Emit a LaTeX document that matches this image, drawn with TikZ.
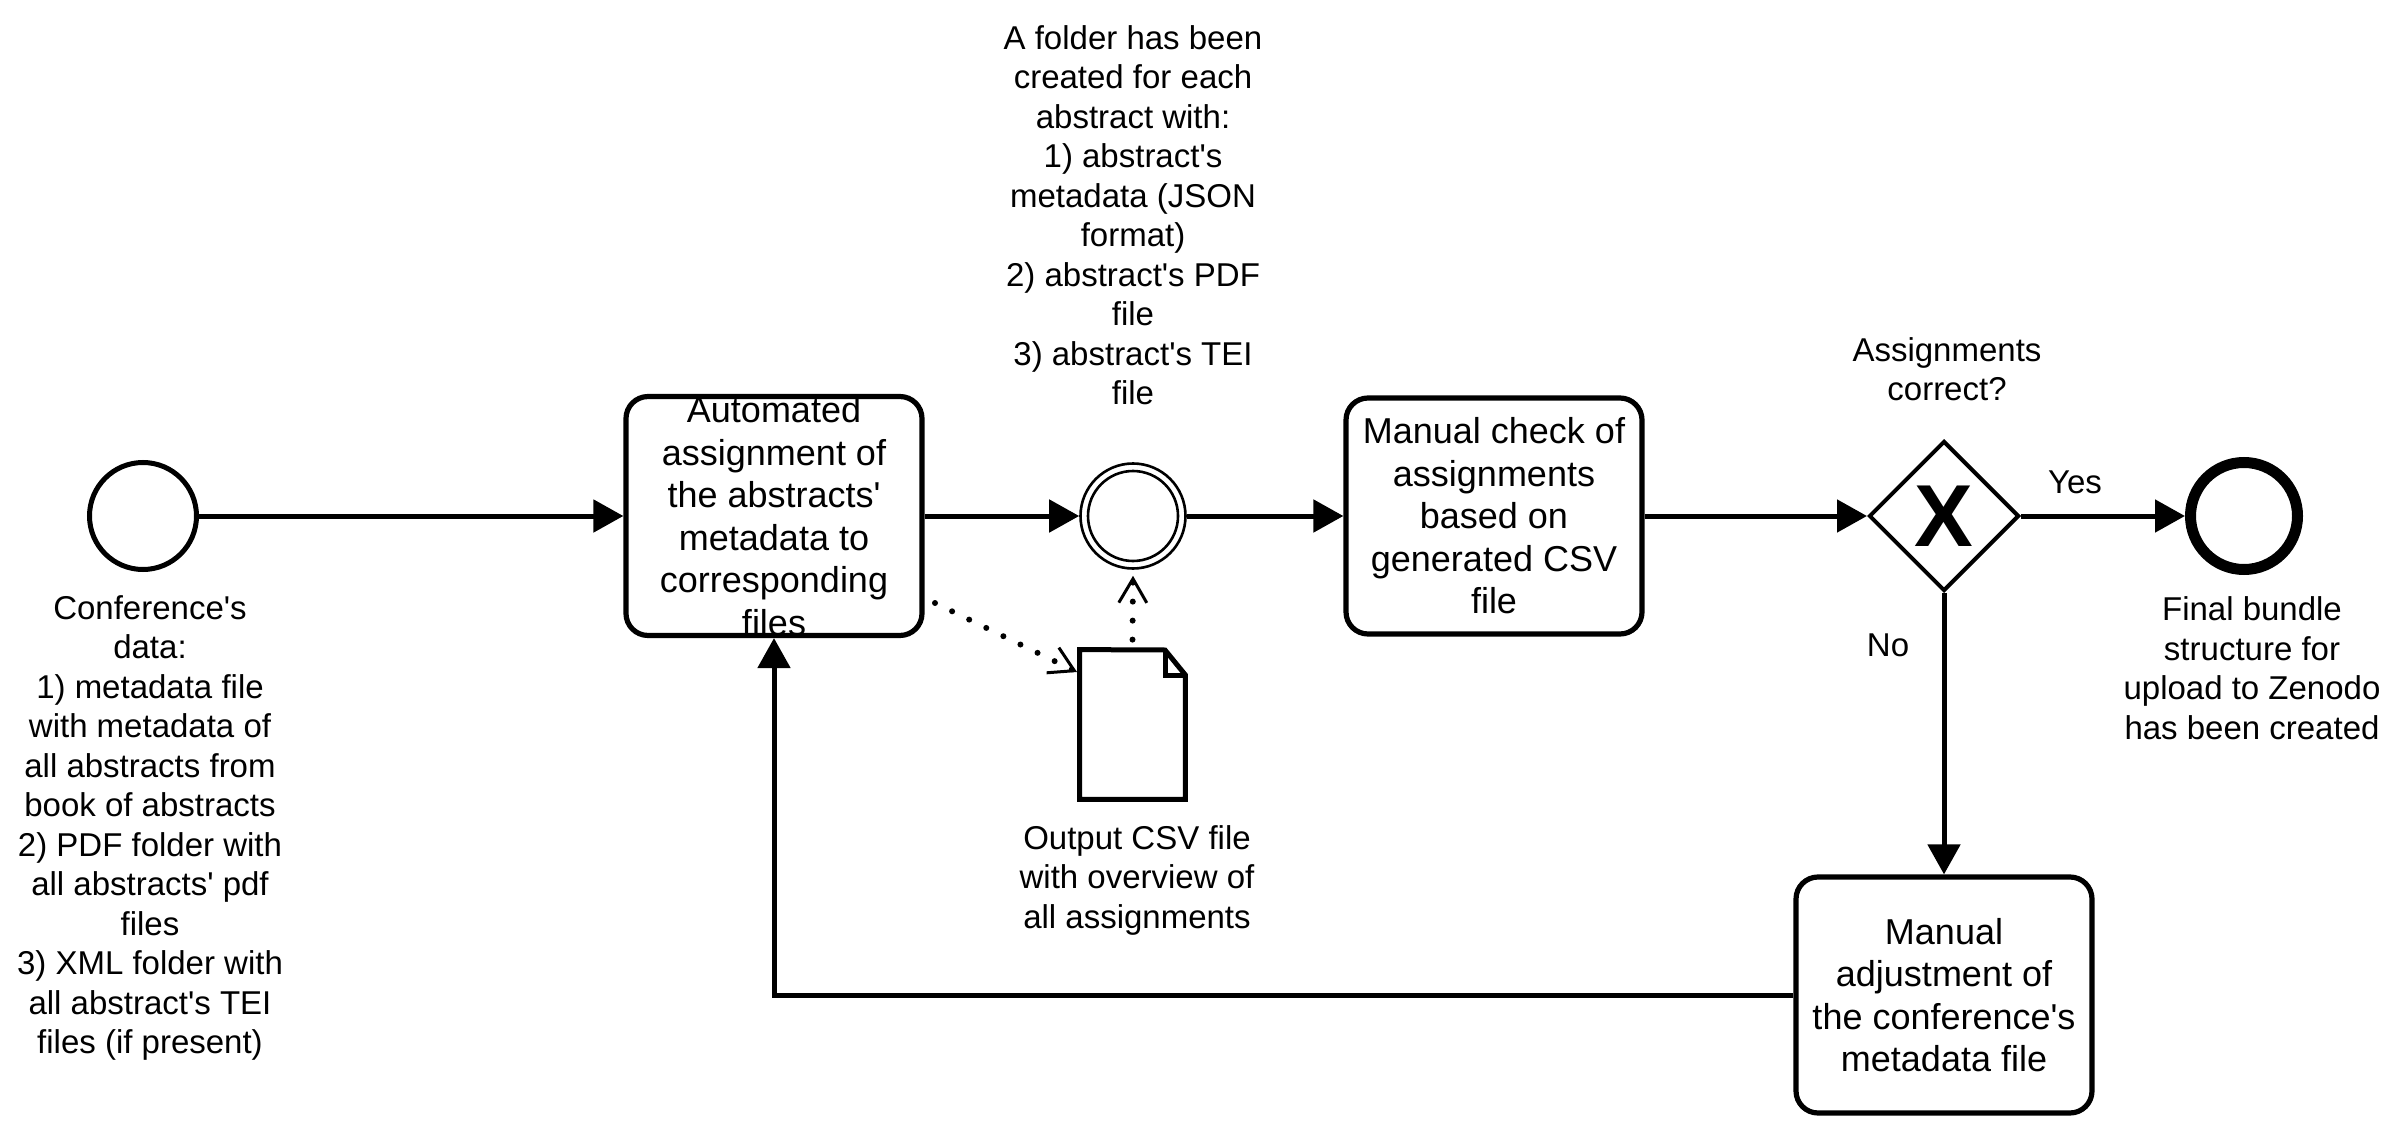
\documentclass[tikz,border=0pt]{standalone}
\usepackage{fontspec}
\setmainfont{Liberation Sans}[Ligatures=TeXOff]
\usetikzlibrary{arrows.meta,shapes.geometric}
\begin{document}
\begin{tikzpicture}[x=0.5pt,y=-0.5pt,
  task/.style={draw,line width=2.6pt,rounded corners=11pt,minimum width=148pt,minimum height=118pt,inner sep=0pt,align=center,font=\fontsize{18}{21.25}\selectfont},
  ann/.style={align=center,inner sep=0pt,font=\fontsize{16.5}{19.75}\selectfont},
  flow/.style={line width=2.5pt,-{Triangle[length=15pt,width=16pt]}},
  assoc/.style={line width=3pt,dash pattern=on 0pt off 9.5pt,line cap=round,-{Straight Barb[length=12pt,width=14pt,line width=1.5pt]}},
]
\useasboundingbox (0,0) rectangle (2400,1134);
% events
\node[draw,circle,line width=2.5pt,minimum size=53.5pt,inner sep=0pt] (se) at (143,516) {};
\node[draw,circle,line width=1.3pt,minimum size=52.5pt,inner sep=0pt] (ie) at (1133,516) {};
\node[draw,circle,line width=1.3pt,minimum size=45pt,inner sep=0pt] (ie2) at (1133,516) {};
\node[draw,circle,line width=5.5pt,minimum size=53.5pt,inner sep=0pt] (ee) at (2244,516) {};
% tasks
\node[task] (t1) at (774,516) {Automated\\assignment of\\the abstracts'\\metadata to\\corresponding\\files};
\node[task] (t2) at (1494,516) {Manual check of\\assignments\\based on\\generated CSV\\file};
\node[task] (adj) at (1944,995) {Manual\\adjustment of\\the conference's\\metadata file};
% gateway
\node[draw,diamond,line width=2pt,minimum width=75pt,minimum height=75pt,inner sep=0pt] (gw) at (1944,516) {};
\node[font=\bfseries\fontsize{44}{44}\selectfont,inner sep=0pt] (gwx) at (1944,516) {X};
% data object
\node[minimum width=52.5pt,minimum height=74.5pt,inner sep=0pt] (doc) at (1132.5,724.5) {};
\draw[line width=2.5pt,line join=miter] (doc.north west) -- (1165,650) -- (doc.north east |- 0,675) -- (doc.south east) -- (doc.south west) -- cycle;
\draw[line width=2.5pt] (1165,650) -- (1165,675) -- (doc.north east |- 0,675);
% labels
\node[ann] (lse) at (150,828) {Conference's\\data:\\1) metadata file\\with metadata of\\all abstracts from\\book of abstracts\\2) PDF folder with\\all abstracts' pdf\\files\\3) XML folder with\\all abstract's TEI\\files (if present)};
\node[ann] (lie) at (1133,215) {A folder has been\\created for each\\abstract with:\\1) abstract's\\metadata (JSON\\format)\\2) abstract's PDF\\file\\3) abstract's TEI\\file};
\node[ann] (ldoc) at (1137,880) {Output CSV file\\with overview of\\all assignments};
\node[ann] (lgw) at (1947,369) {Assignments\\correct?};
\node[ann] (lee) at (2252,668) {Final bundle\\structure for\\upload to Zenodo\\has been created};
\node[ann] (lyes) at (2075,482) {Yes};
\node[ann] (lno) at (1888,645) {No};
% flows
\draw[flow] (se.east) -- (t1.west);
\draw[flow] (t1.east) -- (ie.west);
\draw[flow] (ie.east) -- (t2.west);
\draw[flow] (t2.east) -- (gw.west);
\draw[flow] (gw.east) -- (ee.west);
\draw[flow] (gw.south) -- (adj.north);
\draw[flow] (adj.west) -| (t1.south);
% associations
\coordinate (a1s) at (935,603);
\coordinate (a1e) at (1077,672);
\draw[assoc] (a1s) -- (a1e);
\draw[assoc] ([yshift=5pt]doc.north) -- ([yshift=-3pt]ie.south);
\end{tikzpicture}
\end{document}
